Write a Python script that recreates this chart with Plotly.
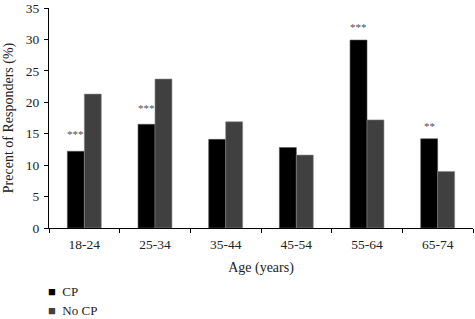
import plotly.graph_objects as go

ages = ["18-24", "25-34", "35-44", "45-54", "55-64", "65-74"]
cp = [12.2, 16.5, 14.1, 12.8, 29.9, 14.2]
no_cp = [21.3, 23.7, 16.9, 11.6, 17.2, 9.0]
sig = ["***", "***", "", "", "***", "**"]
sig_y = [15.3, 19.4, None, None, 32.3, 16.6]
y_ticks = [0, 5, 10, 15, 20, 25, 30, 35]

series_names = ["CP", "No CP"]
series_colors = ["#000000", "#404040"]
edge_colors = ["#555555", "#888888"]
legend_y = [-0.288, -0.375]

font_family = "Liberation Serif"

fig = go.Figure()
for name, vals, col, edge in zip(series_names, [cp, no_cp], series_colors, edge_colors):
    fig.add_trace(go.Bar(x=ages, y=vals, name=name, showlegend=False,
                         marker=dict(color=col, line=dict(color=edge, width=0.6))))

for a, s, sy in zip(ages, sig, sig_y):
    if s:
        fig.add_annotation(x=a, y=sy, text=s, showarrow=False, xshift=-8.5, yshift=-2,
                           yanchor="middle", font=dict(family=font_family, size=11, color="#505050"))

# legend drawn as text with coloured square glyphs
for name, col, ly in zip(series_names, series_colors, legend_y):
    fig.add_annotation(xref="paper", yref="paper", x=0, y=ly, xshift=-3,
                       xanchor="left", yanchor="middle", showarrow=False,
                       text=f'<span style="color:{col}">■</span>  {name}',
                       font=dict(family=font_family, size=13, color="#222222"))

fig.update_layout(
    width=475, height=319,
    margin=dict(l=49, r=2, t=8, b=91),
    paper_bgcolor="white", plot_bgcolor="white",
    barmode="group", bargap=0.52, bargroupgap=0,
    font=dict(family=font_family, size=13, color="#222222"),
    showlegend=False,
    xaxis=dict(showline=True, linecolor="black", linewidth=1, ticks="outside", ticklen=4,
               tickcolor="black", tickson="boundaries", showgrid=False, automargin=False,
               ticklabelstandoff=4,
               title=dict(text="Age (years)", standoff=10, font=dict(size=14)),
               tickfont=dict(size=13.5)),
    yaxis=dict(range=[0, 35], tickmode="array", tickvals=y_ticks, showline=True,
               linecolor="black", linewidth=1, ticklabeloverflow="allow",
               ticks="outside", ticklen=4, tickcolor="black", showgrid=False, zeroline=False,
               automargin=False, ticklabelstandoff=2,
               title=dict(text="Precent of Responders (%)", standoff=8, font=dict(size=14)),
               tickfont=dict(size=13.5)),
)

fig.write_html("out.html", config={"displayModeBar": False},
               post_script="document.body.style.margin='0';document.body.style.padding='0';")
